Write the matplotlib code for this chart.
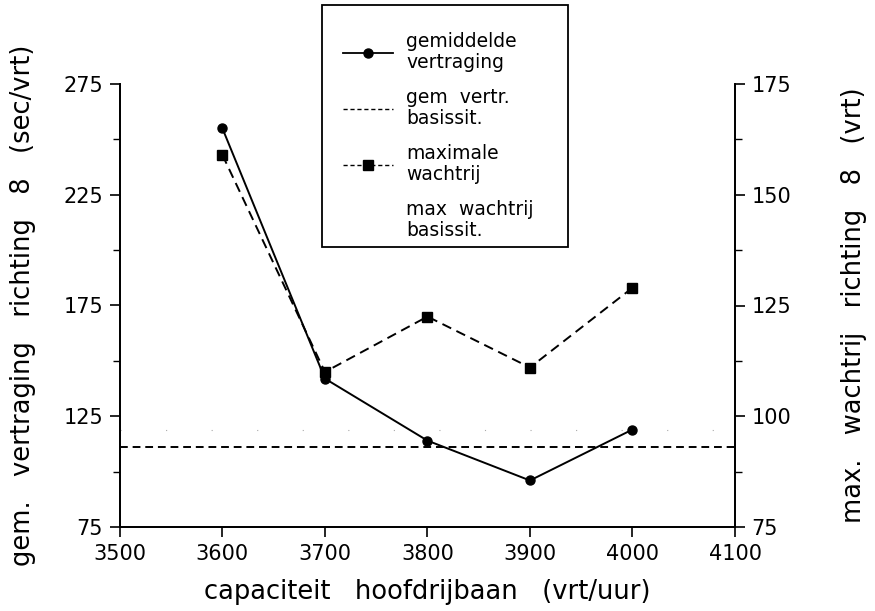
import matplotlib
matplotlib.use("Agg")
import matplotlib.pyplot as plt
from matplotlib.ticker import MultipleLocator
from matplotlib.lines import Line2D
from matplotlib.patches import Rectangle

plt.rcParams['font.family'] = ['DejaVu Sans']

capaciteit = [3600, 3700, 3800, 3900, 4000]
gem_vertraging = [255, 142, 114, 96, 119]
max_wachtrij = [159, 110, 122.5, 111, 129]
gem_vertr_basis = 111
max_wachtrij_basis = 97

W, H = 875, 611
fig = plt.figure(figsize=(W / 100, H / 100), dpi=100)
ax = fig.add_axes([0.137, 0.1375, 0.703, 0.725])
ax2 = ax.twinx()

ax.plot(capaciteit, gem_vertraging, '-', color='black', lw=1.4, marker='o', ms=6.5)
ax.axhline(gem_vertr_basis, color='black', lw=1.4, ls=(0, (4, 2.5)))
ax2.plot(capaciteit, max_wachtrij, color='black', lw=1.4, ls=(0, (5, 3)), marker='s', ms=6.5)
ax2.axhline(max_wachtrij_basis, color='#aaaaaa', lw=0.8, ls=(0, (1, 40)))

ax.set_xlim(3500, 4100)
ax.set_ylim(75, 275)
ax2.set_ylim(75, 175)
ax.set_xticks(range(3500, 4101, 100))
ax.set_yticks([75, 125, 175, 225, 275])
ax.yaxis.set_minor_locator(MultipleLocator(25))
ax2.set_yticks([75, 100, 125, 150, 175])
ax2.yaxis.set_minor_locator(MultipleLocator(12.5))

for a in (ax, ax2):
    a.spines['top'].set_visible(False)
    a.spines['left'].set_linewidth(1.3)
    a.spines['right'].set_linewidth(1.3)
    a.spines['bottom'].set_linewidth(1.3)
    a.tick_params(which='major', length=7, width=1.2, labelsize=15, direction='out', pad=5)
    a.tick_params(which='minor', length=5, width=1.0, direction='out')

ax.set_xlabel('capaciteit   hoofdrijbaan   (vrt/uur)', fontsize=18.5, labelpad=11)
ax.set_ylabel('gem.   vertraging   richting   8   (sec/vrt)', fontsize=18.5, labelpad=20)
ax2.set_ylabel('max.   wachtrij   richting   8   (vrt)', fontsize=18.5, labelpad=36)

handles = [
    Line2D([], [], color='black', lw=1.3, marker='o', ms=6.5),
    Line2D([], [], color='black', lw=1.0, ls=(0, (3, 2))),
    Line2D([], [], color='black', lw=1.0, ls=(0, (3, 2)), marker='s', ms=6.5),
    Line2D([], [], color='white', lw=0),
]
labels = ['gemiddelde\nvertraging', 'gem  vertr.\nbasissit.',
          'maximale\nwachtrij', 'max  wachtrij\nbasissit.']
leg = fig.legend(handles, labels, loc='upper left',
                 bbox_to_anchor=(322 / W, 1 - 11 / H),
                 fontsize=13.5, frameon=False,
                 handlelength=2.7, handletextpad=0.7, labelspacing=0.85,
                 borderpad=1.1, borderaxespad=0)
for t in leg.get_texts():
    t.set_linespacing(1.15)

fig.patches.append(Rectangle((322 / W, 1 - 247 / H), 246 / W, 242 / H,
                             transform=fig.transFigure, fill=False,
                             edgecolor='black', lw=1.3))

fig.savefig('out.png', dpi=100)
